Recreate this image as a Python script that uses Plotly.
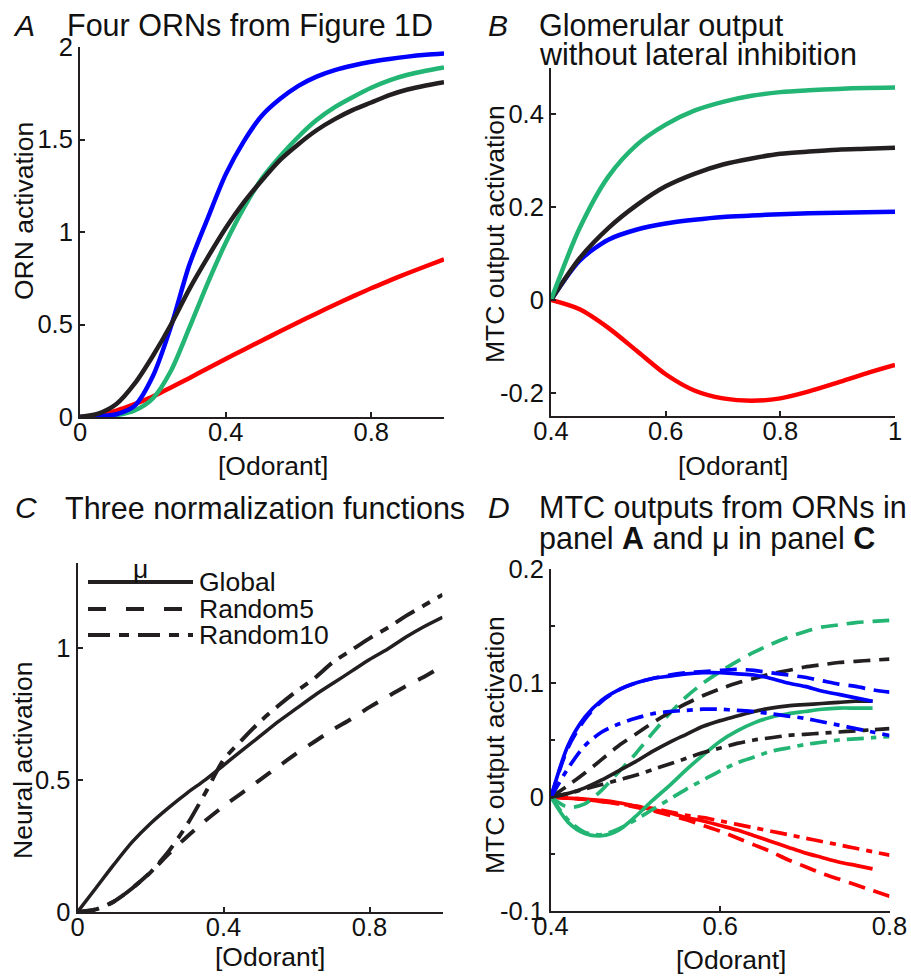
import plotly.graph_objects as go

# ---------------- data ----------------
# Panel A: four ORNs
xA = [0, 0.05, 0.1, 0.15, 0.2, 0.25, 0.3, 0.35, 0.4, 0.45, 0.5, 0.55, 0.6, 0.65, 0.7, 0.75, 0.8, 0.85, 0.9, 0.95, 1.0]
A_red = [0, 0.01, 0.035, 0.07, 0.11, 0.16, 0.21, 0.262, 0.314, 0.364, 0.414, 0.463, 0.512, 0.56, 0.607, 0.652, 0.696, 0.737, 0.777, 0.815, 0.852]
A_green = [0, 0.002, 0.01, 0.035, 0.10, 0.25, 0.48, 0.72, 0.94, 1.13, 1.29, 1.41, 1.515, 1.605, 1.675, 1.73, 1.78, 1.82, 1.85, 1.872, 1.89]
A_blue = [0, 0.003, 0.015, 0.06, 0.22, 0.49, 0.82, 1.07, 1.31, 1.49, 1.63, 1.72, 1.79, 1.84, 1.875, 1.9, 1.92, 1.935, 1.948, 1.958, 1.965]
A_black = [0, 0.018, 0.07, 0.18, 0.33, 0.50, 0.69, 0.86, 1.02, 1.16, 1.28, 1.39, 1.475, 1.55, 1.61, 1.66, 1.70, 1.74, 1.77, 1.792, 1.81]

# Panel B: glomerular output without lateral inhibition
xB = [0.4, 0.45, 0.5, 0.55, 0.6, 0.65, 0.7, 0.75, 0.8, 0.85, 0.9, 0.95, 1.0]
B_green = [0, 0.155, 0.266, 0.335, 0.378, 0.408, 0.427, 0.44, 0.448, 0.452, 0.455, 0.457, 0.458]
B_black = [0, 0.09, 0.155, 0.205, 0.245, 0.272, 0.292, 0.305, 0.315, 0.32, 0.324, 0.326, 0.328]
B_blue = [0, 0.085, 0.13, 0.152, 0.165, 0.173, 0.179, 0.182, 0.185, 0.187, 0.188, 0.189, 0.19]
B_red = [0, -0.02, -0.06, -0.11, -0.16, -0.195, -0.212, -0.217, -0.212, -0.197, -0.178, -0.158, -0.14]

# Panel C: three normalization functions
xC = [0, 0.05, 0.1, 0.15, 0.2, 0.25, 0.3, 0.35, 0.4, 0.45, 0.5, 0.55, 0.6, 0.65, 0.7, 0.75, 0.8, 0.85, 0.9, 0.95, 1.0]
C_global = [0, 0.09, 0.18, 0.265, 0.335, 0.395, 0.45, 0.50, 0.555, 0.61, 0.665, 0.72, 0.77, 0.82, 0.865, 0.91, 0.955, 0.995, 1.04, 1.08, 1.115]
C_random5 = [0, 0.01, 0.04, 0.09, 0.15, 0.22, 0.285, 0.345, 0.40, 0.45, 0.50, 0.55, 0.60, 0.645, 0.69, 0.73, 0.775, 0.815, 0.855, 0.89, 0.93]
C_random10 = [0, 0.01, 0.04, 0.09, 0.15, 0.23, 0.33, 0.45, 0.575, 0.65, 0.72, 0.78, 0.835, 0.885, 0.945, 0.99, 1.035, 1.075, 1.12, 1.16, 1.20]
C_names = ["Global", "Random5", "Random10"]

# Panel D: MTC outputs (solid = Global, dashed = Random5, dash-dot = Random10)
xD_solid = [0.4, 0.42, 0.44, 0.46, 0.48, 0.5, 0.52, 0.54, 0.56, 0.58, 0.6, 0.62, 0.64, 0.66, 0.68, 0.7, 0.72, 0.74, 0.76, 0.78]
xD = [0.4, 0.42, 0.44, 0.46, 0.48, 0.5, 0.52, 0.54, 0.56, 0.58, 0.6, 0.62, 0.64, 0.66, 0.68, 0.7, 0.72, 0.74, 0.76, 0.78, 0.8]
D_blue_g = [0, 0.045, 0.07, 0.085, 0.094, 0.1, 0.104, 0.106, 0.108, 0.109, 0.109, 0.108, 0.107, 0.104, 0.1, 0.097, 0.093, 0.09, 0.087, 0.084]
D_blue_r5 = [0, 0.043, 0.068, 0.084, 0.094, 0.1, 0.104, 0.107, 0.109, 0.11, 0.111, 0.112, 0.111, 0.109, 0.107, 0.105, 0.102, 0.099, 0.097, 0.094, 0.092]
D_blue_r10 = [0, 0.025, 0.045, 0.057, 0.064, 0.069, 0.073, 0.075, 0.076, 0.077, 0.077, 0.076, 0.075, 0.073, 0.071, 0.069, 0.066, 0.063, 0.06, 0.057, 0.054]
D_black_g = [0, 0.003, 0.008, 0.015, 0.023, 0.031, 0.04, 0.048, 0.055, 0.062, 0.067, 0.071, 0.075, 0.078, 0.08, 0.081, 0.082, 0.083, 0.084, 0.084]
D_black_r5 = [0, 0.01, 0.021, 0.033, 0.045, 0.055, 0.065, 0.074, 0.082, 0.089, 0.095, 0.1, 0.104, 0.108, 0.111, 0.114, 0.116, 0.118, 0.119, 0.12, 0.121]
D_black_r10 = [0, 0.003, 0.007, 0.011, 0.015, 0.019, 0.024, 0.029, 0.034, 0.039, 0.043, 0.047, 0.05, 0.052, 0.054, 0.055, 0.056, 0.057, 0.058, 0.059, 0.06]
D_green_g = [0, -0.022, -0.032, -0.034, -0.029, -0.017, -0.003, 0.01, 0.024, 0.037, 0.049, 0.058, 0.065, 0.07, 0.073, 0.075, 0.077, 0.078, 0.078, 0.078]
D_green_r5 = [0, -0.009, -0.006, 0.006, 0.022, 0.038, 0.056, 0.073, 0.088, 0.1, 0.11, 0.119, 0.127, 0.134, 0.14, 0.145, 0.149, 0.151, 0.153, 0.154, 0.155]
D_green_r10 = [0, -0.02, -0.031, -0.033, -0.028, -0.02, -0.011, -0.002, 0.007, 0.015, 0.023, 0.03, 0.035, 0.04, 0.043, 0.046, 0.048, 0.05, 0.051, 0.052, 0.053]
D_red_g = [0, -0.001, -0.002, -0.003, -0.005, -0.008, -0.011, -0.014, -0.018, -0.021, -0.025, -0.029, -0.034, -0.039, -0.044, -0.049, -0.053, -0.057, -0.06, -0.063]
D_red_r5 = [0, -0.001, -0.002, -0.004, -0.006, -0.009, -0.012, -0.016, -0.02, -0.025, -0.03, -0.036, -0.042, -0.048, -0.055, -0.061, -0.067, -0.072, -0.077, -0.082, -0.087]
D_red_r10 = [0, -0.001, -0.002, -0.004, -0.006, -0.008, -0.01, -0.013, -0.016, -0.018, -0.021, -0.024, -0.027, -0.03, -0.033, -0.036, -0.039, -0.042, -0.045, -0.048, -0.051]

# tick labels
A_xticks = [0, 0.4, 0.8]; A_xlabels = ["0", "0.4", "0.8"]
A_yticks = [0, 0.5, 1, 1.5, 2]; A_ylabels = ["0", "0.5", "1", "1.5", "2"]
B_xticks = [0.4, 0.6, 0.8, 1.0]; B_xlabels = ["0.4", "0.6", "0.8", "1"]
B_yticks = [-0.2, 0, 0.2, 0.4]; B_ylabels = ["-0.2", "0", "0.2", "0.4"]
C_xticks = [0, 0.4, 0.8]; C_xlabels = ["0", "0.4", "0.8"]
C_yticks = [0, 0.5, 1]; C_ylabels = ["0", "0.5", "1"]
D_xticks = [0.4, 0.6, 0.8]; D_xlabels = ["0.4", "0.6", "0.8"]
D_yticks = [-0.1, 0, 0.1, 0.2]; D_ylabels = ["-0.1", "0", "0.1", "0.2"]

# ---------------- style ----------------
W, H = 911, 976
FONT = "Liberation Sans, Arial, Helvetica, sans-serif"
AXC = "#231F20"
RED, GREEN, BLUE, BLACK = "#FF0000", "#22B573", "#0000FF", "#231F20"
DASH_C = "18px,14px"
DASHDOT_C = "22px,9px,9px,9px"
DASH_D = "17px,9px"
DASHDOT_D = "17px,7px,6px,7px"


def px(x, y):
    return x / W, 1 - y / H


fig = go.Figure()

def add(xs, ys, color, width, dash, ax):
    fig.add_trace(go.Scatter(x=xs, y=ys, mode="lines", line=dict(color=color, width=width, dash=dash, shape="spline", smoothing=0.8),
                             xaxis="x" + ax, yaxis="y" + ax, showlegend=False, hoverinfo="skip"))

# A
add(xA, A_red, RED, 4.5, "solid", "")
add(xA, A_green, GREEN, 4.5, "solid", "")
add(xA, A_blue, BLUE, 4.5, "solid", "")
add(xA, A_black, BLACK, 4.5, "solid", "")
# B
add(xB, B_red, RED, 4.5, "solid", "2")
add(xB, B_blue, BLUE, 4.5, "solid", "2")
add(xB, B_black, BLACK, 4.5, "solid", "2")
add(xB, B_green, GREEN, 4.5, "solid", "2")
# C
add(xC, C_random5, BLACK, 4, DASH_C, "3")
add(xC, C_random10, BLACK, 4, DASHDOT_C, "3")
add(xC, C_global, BLACK, 3.5, "solid", "3")
# D
for xs, ys, c, d in [
    (xD, D_red_r5, RED, DASH_D), (xD, D_red_r10, RED, DASHDOT_D), (xD_solid, D_red_g, RED, "solid"),
    (xD, D_green_r5, GREEN, DASH_D), (xD, D_green_r10, GREEN, DASHDOT_D), (xD_solid, D_green_g, GREEN, "solid"),
    (xD, D_black_r5, BLACK, DASH_D), (xD, D_black_r10, BLACK, DASHDOT_D), (xD_solid, D_black_g, BLACK, "solid"),
    (xD, D_blue_r5, BLUE, DASH_D), (xD, D_blue_r10, BLUE, DASHDOT_D), (xD_solid, D_blue_g, BLUE, "solid"),
]:
    add(xs, ys, c, 3.7, d, "4")


def axis(domain, rng, tickvals, ticktext, anchor, standoff, minor=None):
    d = dict(domain=domain, range=rng, tickmode="array", tickvals=tickvals, ticktext=ticktext,
             showline=True, linecolor=AXC, linewidth=2, ticks="inside", ticklen=5, tickwidth=1.5, tickcolor=AXC,
             showgrid=False, zeroline=False, anchor=anchor, fixedrange=True, automargin=False,
             tickfont=dict(family=FONT, size=25.5, color="#111111"), ticklabelstandoff=standoff)
    if minor:
        d["minor"] = minor
    return d


def dom_x(a, b):
    return [a / W, b / W]


def dom_y(top, bottom):
    return [1 - bottom / H, 1 - top / H]


XS, YS = -9, 0
layout = dict(
    width=W, height=H, margin=dict(l=0, r=0, t=0, b=0, autoexpand=False), paper_bgcolor="white", plot_bgcolor="white",
    showlegend=False,
    xaxis=axis(dom_x(80, 444), [0, 1.0], A_xticks, A_xlabels, "y", XS),
    yaxis=axis(dom_y(47, 417), [0, 2.0], A_yticks, A_ylabels, "x", YS),
    xaxis2=axis(dom_x(551, 895), [0.4, 1.0], B_xticks, B_xlabels, "y2", XS),
    yaxis2=axis(dom_y(68, 416), [-0.25, 0.5], B_yticks, B_ylabels, "x2", YS),
    xaxis3=axis(dom_x(77.5, 442.5), [0, 1.0], C_xticks, C_xlabels, "y3", XS),
    yaxis3=axis(dom_y(563, 912), [0, 1.32], C_yticks, C_ylabels, "x3", YS),
    xaxis4=axis(dom_x(551, 889.5), [0.4, 0.8], D_xticks, D_xlabels, "y4", XS),
    yaxis4=axis(dom_y(569, 911), [-0.1, 0.2], D_yticks, D_ylabels, "x4", YS,
                minor=dict(tickvals=[-0.05, 0.05, 0.15], ticks="inside", ticklen=4, tickcolor=AXC, tickwidth=1.5)),
)
fig.update_layout(**layout)

annotations = []

def text(t, x, y, size, xanchor="left", angle=0, italic=False):
    xp, yp = px(x, y)
    s = "<i>%s</i>" % t if italic else t
    annotations.append(dict(text=s, x=xp, y=yp, xref="paper", yref="paper", xanchor=xanchor, yanchor="middle",
                            showarrow=False, textangle=angle, borderpad=0,
                            font=dict(family=FONT, size=size, color="#111111")))

# panel letters & titles
text("A", 12, 25, 30, italic=True)
text("Four ORNs from Figure 1D", 66, 25, 30.5)
text("B", 487, 25, 30, italic=True)
text("Glomerular output", 538, 25, 30.5)
text("without lateral inhibition", 538, 54, 30.5)
text("C", 14, 508, 30, italic=True)
text("Three normalization functions", 64, 508, 30.5)
text("D", 487, 508, 30, italic=True)
text("MTC outputs from ORNs in", 538, 508, 30.5)
text("panel <b>A</b> and \u03bc in panel <b>C</b>", 538, 538, 30.5)

# axis titles
text("ORN activation", 24, 211, 26.5, xanchor="center", angle=-90)
text("[Odorant]", 273, 466, 26.5, xanchor="center")
text("MTC output activation", 495, 234, 26.5, xanchor="center", angle=-90)
text("[Odorant]", 733, 466, 26.5, xanchor="center")
text("Neural activation", 23, 761, 26.5, xanchor="center", angle=-90)
text("[Odorant]", 270, 957, 26.5, xanchor="center")
text("MTC output activation", 495, 745, 26.5, xanchor="center", angle=-90)
text("[Odorant]", 731, 960, 26.5, xanchor="center")

# legend in panel C
leg_y = [582, 609, 635]
leg_dash = ["solid", "18px,20px", "22px,9px,10px,9px"]
shapes = []
for name, yy, dsh in zip(C_names, leg_y, leg_dash):
    x0, y0 = px(88, yy)
    x1, _ = px(193, yy)
    shapes.append(dict(type="line", xref="paper", yref="paper", x0=x0, x1=x1, y0=y0, y1=y0,
                       line=dict(color=BLACK, width=4, dash=dsh)))
    text(name, 198, yy, 26.5)
text("\u03bc", 140, 569, 26.5, xanchor="center")

fig.update_layout(annotations=annotations, shapes=shapes)
fig.write_html("out.html", config={"displayModeBar": False},
               post_script="document.body.style.margin='0px';document.body.style.overflow='hidden';")
